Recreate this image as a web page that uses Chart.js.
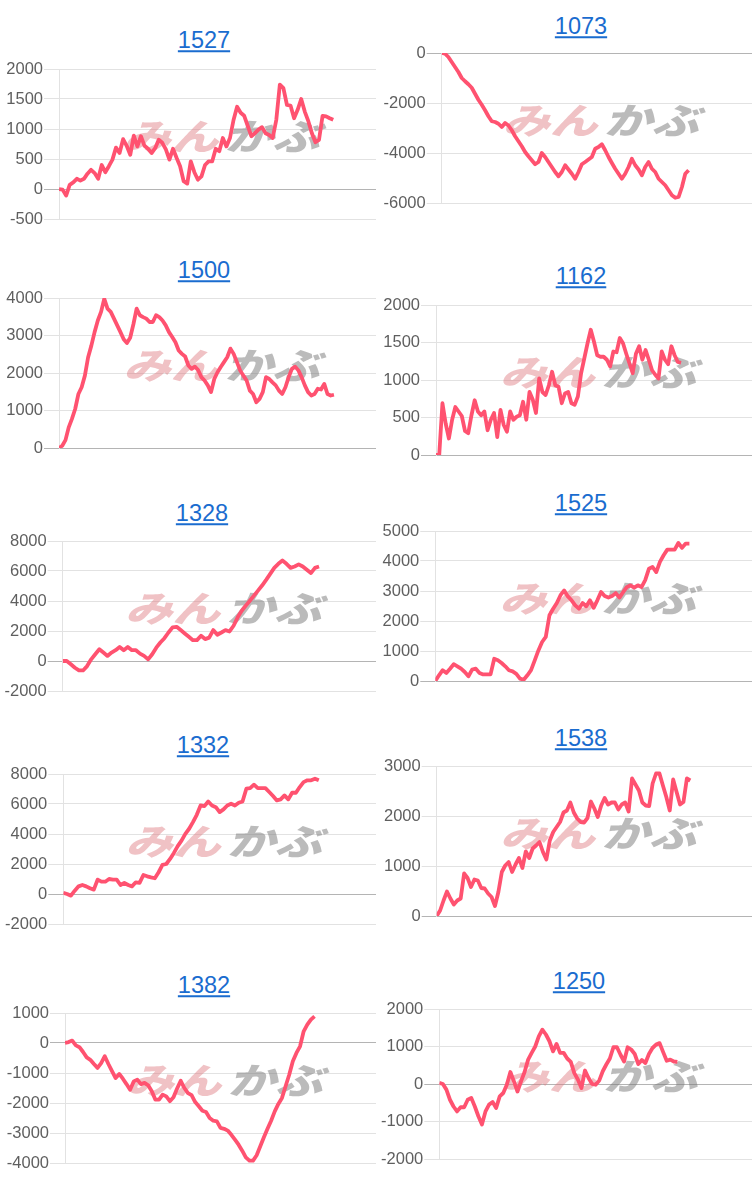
<!DOCTYPE html>
<html>
<head>
<meta charset="utf-8">
<script src="https://cdn.jsdelivr.net/npm/chart.js@4.4.1/dist/chart.umd.min.js"></script>
<style>
  body { margin: 0; background: #fff; width: 752px; height: 1183px; position: relative; overflow: hidden;
         font-family: "Liberation Sans", Arial, sans-serif; }
  .panel { position: absolute; width: 376px; height: 174px; }
  .ttl { position: absolute; font-size: 23.5px; line-height: 1; color: #1a6ccf; text-decoration: underline;
         transform: translate(-50%, -50%); white-space: nowrap; }
</style>
</head>
<body>
<script>
// Titulos dos paineis (codigo)
const titles = ['1527', '1073', '1500', '1162', '1328', '1525', '1332', '1538', '1382', '1250'];

// Series (um ponto por dia)
const s1527 = [0, -10, -110, 70, 110, 170, 140, 170, 255, 320, 265, 170, 400, 280, 380, 490, 690, 600, 830, 720,
  570, 890, 710, 880, 720, 670, 600, 680, 820, 770, 660, 490, 670, 520, 380, 130, 90, 460, 280, 155,
  210, 400, 460, 460, 670, 630, 850, 710, 850, 1150, 1370, 1270, 1220, 1050, 880, 930, 990, 1030, 930, 900,
  850, 1150, 1740, 1680, 1400, 1390, 1180, 1320, 1500, 1290, 1130, 930, 780, 820, 1220, 1210, 1180, 1155];
const s1073 = [0, -30, -160, -360, -560, -760, -1000, -1130, -1250, -1390, -1630, -1870, -2070, -2290, -2530, -2730, -2760, -2830, -2960, -2800,
  -2900, -3090, -3330, -3530, -3730, -3960, -4130, -4290, -4450, -4360, -4000, -4160, -4360, -4560, -4760, -4930, -4760, -4490, -4660, -4830,
  -5030, -4760, -4450, -4360, -4260, -4160, -3830, -3760, -3650, -3890, -4160, -4400, -4630, -4830, -5030, -4830, -4560, -4230, -4490, -4660,
  -4890, -4560, -4360, -4630, -4760, -5030, -5160, -5290, -5490, -5690, -5790, -5760, -5360, -4830, -4690];
const s1500 = [0, 60, 210, 550, 775, 1040, 1440, 1620, 1930, 2420, 2730, 3090, 3400, 3630, 3980, 3715, 3630, 3450, 3270, 3090,
  2900, 2800, 2940, 3300, 3715, 3540, 3490, 3450, 3360, 3360, 3540, 3490, 3400, 3270, 3090, 2960, 2820, 2600, 2510, 2440,
  2200, 2110, 2170, 2080, 1890, 1800, 1670, 1490, 1840, 2020, 2160, 2290, 2420, 2650, 2510, 2290, 2070, 1930, 1800, 1530,
  1440, 1220, 1310, 1490, 1890, 1840, 1750, 1670, 1530, 1440, 1620, 1890, 2110, 2170, 2070, 1890, 1670, 1490, 1400, 1440,
  1580, 1560, 1710, 1440, 1400, 1420];
const s1162 = [0, 0, 690, 420, 220, 470, 640, 580, 520, 320, 290, 530, 730, 580, 530, 580, 330, 470, 560, 240,
  600, 400, 310, 580, 470, 510, 530, 710, 470, 840, 740, 560, 1020, 840, 800, 930, 1110, 930, 910, 690,
  820, 840, 690, 670, 780, 1090, 1290, 1490, 1670, 1510, 1330, 1310, 1310, 1270, 1180, 1380, 1370, 1560, 1490, 1350,
  1220, 1090, 1350, 1450, 1270, 1400, 1270, 1130, 1070, 1020, 1380, 1270, 1210, 1450, 1330, 1240, 1230];
const s1328 = [0, 0, -220, -450, -630, -630, -340, 110, 450, 780, 560, 340, 560, 720, 940, 720, 940, 720, 720, 490,
  340, 110, 450, 890, 1230, 1520, 1900, 2240, 2280, 2060, 1830, 1610, 1390, 1390, 1680, 1460, 1560, 2060, 1750, 1900,
  2060, 1970, 2350, 2910, 3350, 3690, 4020, 4360, 4690, 5030, 5410, 5810, 6210, 6480, 6700, 6480, 6210, 6300, 6440, 6300,
  6080, 5860, 6210, 6300];
const s1525 = [0, 190, 360, 270, 410, 560, 490, 410, 300, 160, 380, 410, 270, 220, 220, 220, 740, 690, 600, 490,
  360, 320, 240, 80, 40, 190, 360, 690, 1020, 1300, 1470, 2190, 2410, 2600, 2860, 3020, 2820, 2690, 2520, 2410,
  2600, 2490, 2690, 2440, 2690, 2970, 2830, 2780, 2830, 2930, 2780, 2960, 3130, 3190, 3110, 3190, 3130, 3360, 3740, 3800,
  3630, 3970, 4190, 4380, 4380, 4380, 4600, 4440, 4580, 4580];
const s1332 = [70, 0, -110, 220, 510, 600, 510, 380, 290, 960, 820, 820, 1000, 960, 960, 600, 740, 600, 510, 780,
  740, 1270, 1180, 1110, 1050, 1450, 1940, 2000, 2340, 2740, 3190, 3560, 4010, 4350, 4790, 5280, 5900, 5860, 6170, 5900,
  5790, 5460, 5640, 5900, 6020, 5900, 6080, 6170, 7020, 7060, 7290, 7060, 7060, 7060, 6800, 6530, 6240, 6310, 6570, 6310,
  6750, 6750, 7130, 7460, 7580, 7580, 7690, 7580];
const s1538 = [0, 110, 310, 490, 350, 230, 310, 350, 850, 760, 580, 730, 710, 560, 550, 450, 380, 200, 480, 880,
  1010, 1080, 880, 1030, 1160, 960, 1290, 1160, 1350, 1410, 1480, 1280, 1130, 1510, 1680, 1780, 1880, 2070, 2110, 2270,
  2070, 1950, 1880, 1870, 1960, 2290, 2150, 1980, 2210, 2360, 2230, 2270, 2270, 2130, 2230, 2270, 2090, 2750, 2630, 2510,
  2270, 2210, 2200, 2650, 2850, 2850, 2610, 2380, 2110, 2730, 2480, 2230, 2280, 2750, 2710];
const s1382 = [0, 30, 80, -80, -140, -300, -480, -560, -700, -830, -670, -440, -700, -940, -1170, -1030, -1190, -1370, -1560, -1280,
  -1220, -1370, -1330, -1410, -1610, -1890, -1890, -1720, -1780, -1940, -1810, -1520, -1260, -1500, -1670, -1740, -1970, -2110, -2260, -2300,
  -2500, -2590, -2610, -2830, -2860, -2920, -3060, -3220, -3390, -3590, -3810, -3920, -3920, -3740, -3440, -3140, -2860, -2590, -2280, -2030,
  -1830, -1440, -1060, -610, -330, -110, 390, 610, 780, 890];
const s1250 = [30, 0, -150, -420, -600, -730, -620, -620, -420, -370, -600, -860, -1080, -730, -550, -480, -640, -330, -240, -20,
  320, 70, -200, 70, 320, 650, 830, 1000, 1270, 1450, 1320, 1140, 870, 1070, 830, 830, 680, 590, 290, 120,
  -110, 360, 160, 0, -20, 90, 340, 520, 680, 980, 980, 780, 600, 980, 920, 800, 530, 640, 560, 800,
  960, 1050, 1090, 850, 620, 650, 600, 590];

// Eixo Y de cada painel: minimo, maximo, passo; e quantidade de dias no eixo X
const yMins = [-500, -6000, 0, 0, -2000, 0, -2000, 0, -4000, -2000];
const yMaxs = [2000, 0, 4000, 2000, 8000, 5000, 8000, 3000, 1000, 2000];
const ySteps = [500, 2000, 1000, 500, 2000, 1000, 2000, 1000, 1000, 1000];
const xDays = [89, 93, 98, 98, 77, 86, 82, 92, 86, 88];

const series = [s1527, s1073, s1500, s1162, s1328, s1525, s1332, s1538, s1382, s1250];

// Posicao de cada painel na pagina
const layout = [
  { col: 0,   top: 69.3,   left: 59,   tx: 204, ty: 41 },
  { col: 376, top: 52.7,   left: 65.7, tx: 581, ty: 26.5 },
  { col: 0,   top: 297.7,  left: 59,   tx: 204, ty: 271 },
  { col: 376, top: 305,    left: 60,   tx: 581, ty: 277 },
  { col: 0,   top: 540.7,  left: 62.7, tx: 202, ty: 513.5 },
  { col: 376, top: 530.7,  left: 59.3, tx: 581, ty: 503.5 },
  { col: 0,   top: 773.7,  left: 63.3, tx: 203, ty: 746 },
  { col: 376, top: 765.7,  left: 60.7, tx: 581, ty: 738.5 },
  { col: 0,   top: 1013.3, left: 65,   tx: 204, ty: 986 },
  { col: 376, top: 1009.3, left: 63.3, tx: 579, ty: 981.5 }
];

const PAD = 12;      // folga acima/abaixo da area do grafico
const PLOT_H = 150;  // altura da area do grafico

// Marca d'agua "みんかぶ" no centro da area do grafico
const watermark = {
  id: 'watermark',
  beforeDatasetsDraw(chart) {
    const a = chart.chartArea;
    const cx = (a.left + a.right) / 2 + 4;
    const cy = (a.top + a.bottom) / 2 - 8;
    const ctx = chart.ctx;
    ctx.save();
    ctx.translate(cx, cy);
    ctx.scale(1.08, 0.82);
    ctx.font = 'italic 900 44px "Noto Sans CJK JP"';
    ctx.textBaseline = 'middle';
    const w1 = ctx.measureText('みん').width;
    const w2 = ctx.measureText('かぶ').width;
    const x = -(w1 + w2 + 6) / 2;
    ctx.fillStyle = 'rgba(222,120,126,0.45)';
    ctx.fillText('みん', x, 0);
    ctx.fillStyle = 'rgba(120,120,120,0.5)';
    ctx.fillText('かぶ', x + w1 + 6, 0);
    ctx.restore();
  }
};

series.forEach((data, i) => {
  const L = layout[i];
  const div = document.createElement('div');
  div.className = 'panel';
  div.style.left = L.col + 'px';
  div.style.top = (L.top - PAD) + 'px';
  div.style.height = (PLOT_H + PAD * 2) + 'px';
  const canvas = document.createElement('canvas');
  div.appendChild(canvas);
  document.body.appendChild(div);

  const t = document.createElement('div');
  t.className = 'ttl';
  t.textContent = titles[i];
  t.style.left = L.tx + 'px';
  t.style.top = L.ty + 'px';
  document.body.appendChild(t);

  new Chart(canvas, {
    type: 'line',
    data: {
      datasets: [{
        data: data.map((v, k) => ({ x: k, y: v })),
        borderColor: 'rgb(255,82,112)',
        borderWidth: 3.8,
        pointRadius: 0,
        tension: 0,
        borderJoinStyle: 'round',
        fill: false
      }]
    },
    options: {
      responsive: true,
      maintainAspectRatio: false,
      animation: false,
      layout: { padding: { top: PAD, bottom: PAD, left: 0, right: 0 } },
      scales: {
        x: { type: 'linear', min: 0, max: xDays[i], display: false },
        y: {
          min: yMins[i],
          max: yMaxs[i],
          afterFit(scale) { scale.width = L.left; },
          ticks: {
            stepSize: ySteps[i],
            color: '#5f5f5f',
            padding: 1,
            callback: (v) => String(v),
            font: { family: '"Liberation Sans", Arial, sans-serif', size: 16.5 }
          },
          grid: {
            color: (c) => (c.tick && c.tick.value === 0 ? '#b4b4b4' : '#e2e2e2'),
            tickLength: 15,
            lineWidth: 1
          },
          border: { display: true, color: '#e2e2e2' }
        }
      },
      plugins: { legend: { display: false }, tooltip: { enabled: false } }
    },
    plugins: [watermark]
  });
});
</script>
</body>
</html>
